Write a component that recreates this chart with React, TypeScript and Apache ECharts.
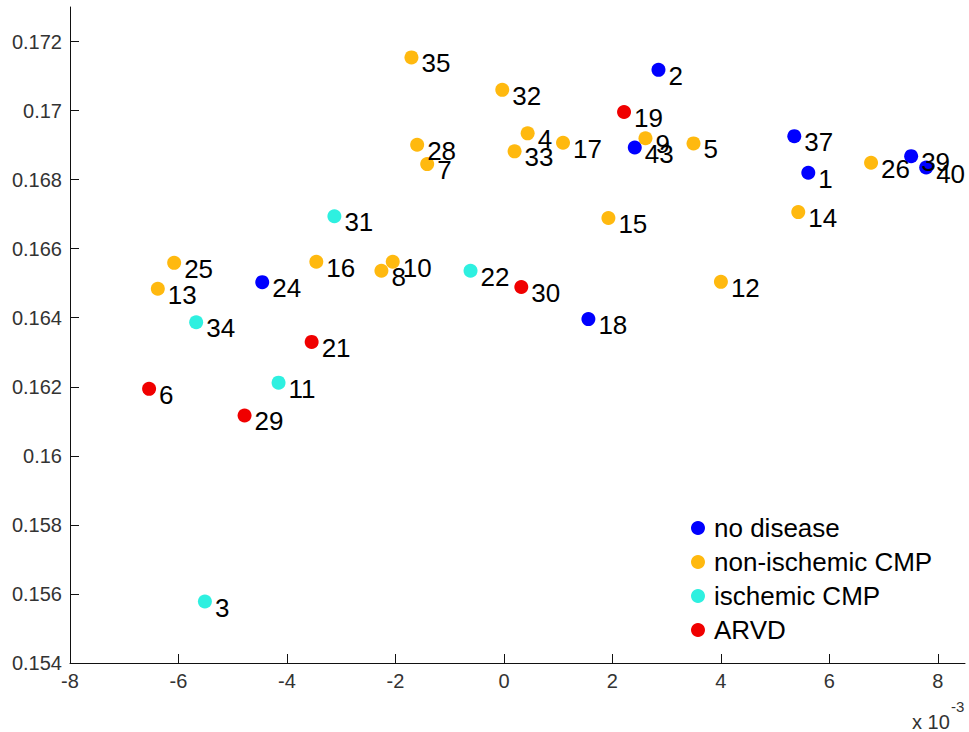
import React, { useEffect, useRef } from "react";
import * as echarts from "echarts";

// x values are shown in units of 10^-3
const noDiseaseIds = [1, 2, 18, 24, 37, 39, 40, 43];
const noDiseaseX = [5.611, 2.849, 1.557, -4.456, 5.353, 7.507, 7.784, 2.412];
const noDiseaseY = [0.1682, 0.17118, 0.16396, 0.16503, 0.16926, 0.16868, 0.16835, 0.16893];

const nonIschemicIds = [4, 5, 7, 8, 9, 10, 12, 13, 14, 15, 16, 17, 25, 26, 28, 32, 33, 35];
const nonIschemicX = [0.437, 3.495, -1.415, -2.259, 2.609, -2.05, 4.0, -6.381, 5.426, 1.926, -3.459, 1.089, -6.08, 6.768, -1.6, -0.031, 0.196, -1.705];
const nonIschemicY = [0.16934, 0.16905, 0.16845, 0.16536, 0.1692, 0.16562, 0.16504, 0.16484, 0.16706, 0.16689, 0.16562, 0.16907, 0.16559, 0.16849, 0.16901, 0.1706, 0.16882, 0.17154];

const ischemicIds = [3, 11, 22, 31, 34];
const ischemicX = [-5.513, -4.155, -0.616, -3.126, -5.674];
const ischemicY = [0.15578, 0.16212, 0.16536, 0.16694, 0.16387];

const arvdIds = [6, 19, 21, 29, 30];
const arvdX = [-6.542, 2.214, -3.545, -4.782, 0.32];
const arvdY = [0.16194, 0.16996, 0.1633, 0.16117, 0.16489];

const groupNames = ["no disease", "non-ischemic CMP", "ischemic CMP", "ARVD"];
const groupColors = ["#0000ff", "#ffb90f", "#2ef0e0", "#f00000"];

const xTicks = [-8, -6, -4, -2, 0, 2, 4, 6, 8];
const yTicks = [0.154, 0.156, 0.158, 0.16, 0.162, 0.164, 0.166, 0.168, 0.17, 0.172];

const FONT = "'Liberation Sans', Arial, Helvetica, sans-serif";

function points(ids: number[], xs: number[], ys: number[]) {
  return ids.map((id, i) => ({ name: String(id), value: [xs[i], ys[i]] }));
}

const groups = [
  points(noDiseaseIds, noDiseaseX, noDiseaseY),
  points(nonIschemicIds, nonIschemicX, nonIschemicY),
  points(ischemicIds, ischemicX, ischemicY),
  points(arvdIds, arvdX, arvdY),
];

export default function App() {
  const ref = useRef<HTMLDivElement>(null);

  useEffect(() => {
    if (!ref.current) return;
    const chart = echarts.init(ref.current, undefined, { renderer: "svg" });
    const axisLine = { show: true, onZero: false, lineStyle: { color: "#111", width: 1 } };
    chart.setOption({
      animation: false,
      backgroundColor: "#ffffff",
      grid: { left: 70, right: 4, top: 7, bottom: 69 },
      xAxis: {
        type: "value",
        min: -8,
        max: 8.5,
        axisLine,
        splitLine: { show: false },
        axisTick: { show: true, inside: true, length: 9, lineStyle: { color: "#111" }, customValues: xTicks },
        axisLabel: {
          customValues: xTicks,
          fontSize: 20,
          fontFamily: FONT,
          color: "#333",
          margin: 8,
          formatter: (v: number) => String(v),
        },
      },
      yAxis: {
        type: "value",
        min: 0.154,
        max: 0.173,
        axisLine,
        splitLine: { show: false },
        axisTick: { show: true, inside: true, length: 9, lineStyle: { color: "#111" }, customValues: yTicks },
        axisLabel: {
          customValues: yTicks,
          fontSize: 20,
          fontFamily: FONT,
          color: "#333",
          margin: 8,
          formatter: (v: number) => String(parseFloat(v.toFixed(3))),
        },
      },
      legend: {
        orient: "vertical",
        left: 686,
        top: 510,
        icon: "circle",
        itemWidth: 14,
        itemHeight: 14,
        itemGap: 8,
        data: groupNames,
        textStyle: { fontSize: 26, lineHeight: 26, color: "#000", fontFamily: FONT, padding: [0, 0, 0, 4] },
      },
      graphic: [
        { type: "text", x: 912, y: 712, style: { text: "x 10", fontSize: 20, fontFamily: FONT, fill: "#333" } },
        { type: "text", x: 951, y: 699, style: { text: "-3", fontSize: 15, fontFamily: FONT, fill: "#333" } },
      ],
      series: groups.map((data, i) => ({
        type: "scatter",
        name: groupNames[i],
        data,
        symbol: "circle",
        symbolSize: 14,
        itemStyle: { color: groupColors[i], opacity: 1 },
        emphasis: { disabled: true },
        label: {
          show: true,
          position: "right",
          distance: 3,
          offset: [0, 6],
          formatter: "{b}",
          fontSize: 26,
          fontFamily: FONT,
          color: "#000",
        },
      })),
    });
    return () => chart.dispose();
  }, []);

  return (
    <div
      ref={ref}
      style={{ position: "fixed", left: 0, top: 0, width: 969, height: 732, background: "#fff" }}
    />
  );
}
